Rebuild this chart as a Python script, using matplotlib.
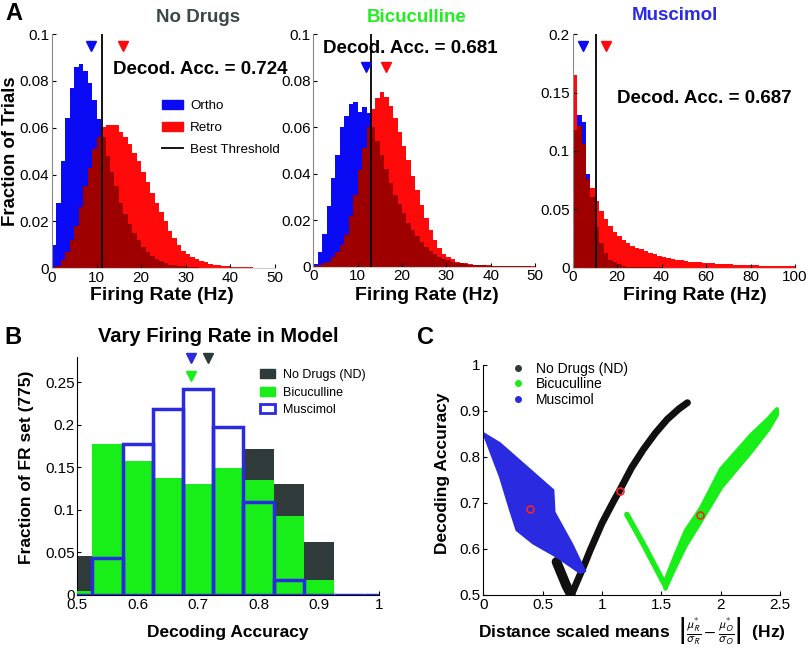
import numpy as np
import matplotlib
matplotlib.use('Agg')
import matplotlib.pyplot as plt
from matplotlib.patches import Patch
from matplotlib.lines import Line2D
from matplotlib.ticker import FuncFormatter

plt.rcParams['font.family'] = ['Liberation Sans', 'DejaVu Sans']
plt.rcParams['mathtext.fontset'] = 'stixsans'

# ---------------- panel A: firing-rate histograms (fraction of trials per bin)
nd_ortho = [0.010, 0.028, 0.0456, 0.064, 0.077, 0.086, 0.087, 0.084, 0.079, 0.0717,
            0.0637, 0.056, 0.048, 0.041, 0.035, 0.028, 0.023, 0.019, 0.015, 0.012,
            0.009, 0.0068, 0.0052, 0.004, 0.003, 0.0022, 0.0016, 0.0012, 0.001, 0.0008,
            0.0006, 0.0005, 0.0004, 0.0003, 0.0003, 0.0002, 0.0002, 0.0002, 0.0001, 0.0001,
            0.0001, 0.0001, 0.0001, 0, 0, 0, 0, 0, 0, 0]
nd_retro = [0.0005, 0.001, 0.0035, 0.007, 0.012, 0.018, 0.026, 0.035, 0.043, 0.051,
            0.056, 0.0605, 0.061, 0.061, 0.061, 0.058, 0.056, 0.053, 0.049, 0.0456,
            0.041, 0.037, 0.032, 0.028, 0.024, 0.020, 0.016, 0.013, 0.010, 0.0075,
            0.006, 0.0048, 0.0038, 0.003, 0.0025, 0.002, 0.0016, 0.0013, 0.001, 0.0009,
            0.0007, 0.0006, 0.0005, 0.0004, 0.0004, 0.0003, 0.0003, 0.0002, 0.0002, 0.0002]
bic_ortho = [0.0011, 0.0063, 0.014, 0.026, 0.038, 0.048, 0.060, 0.065, 0.070, 0.0707,
             0.0667, 0.0686, 0.066, 0.060, 0.054, 0.048, 0.042, 0.036, 0.031, 0.027,
             0.023, 0.019, 0.016, 0.013, 0.0105, 0.0085, 0.0068, 0.0054, 0.0043, 0.0034,
             0.0027, 0.0021, 0.0017, 0.0014, 0.0011, 0.0009, 0.0008, 0.0007, 0.0006, 0.0005,
             0.0004, 0.0004, 0.0004, 0.0003, 0.0003, 0.0003, 0.0004, 0.0004, 0.0002, 0]
bic_retro = [0.0003, 0.0007, 0.0015, 0.002, 0.0043, 0.0065, 0.0093, 0.0136, 0.022, 0.031,
             0.0416, 0.051, 0.060, 0.068, 0.0725, 0.075, 0.073, 0.069, 0.064, 0.058,
             0.052, 0.046, 0.039, 0.033, 0.0265, 0.021, 0.0158, 0.0115, 0.0079, 0.0055,
             0.0043, 0.0035, 0.0022, 0.0016, 0.0014, 0.001, 0.0009, 0.0008, 0.0007, 0.0006,
             0.0005, 0.0005, 0.0004, 0.0004, 0.0003, 0.0002, 0.0002, 0.0002, 0.0002, 0.0002]
mus_ortho = [0.118, 0.131, 0.125, 0.080, 0.061, 0.035, 0.021, 0.0123, 0.007, 0.0046,
             0.003, 0.0017, 0.001, 0.0007, 0.0005, 0.0004, 0.0003, 0.0003, 0.0002, 0.0002,
             0, 0, 0, 0, 0, 0, 0, 0, 0, 0,
             0, 0, 0, 0, 0, 0, 0, 0, 0, 0,
             0, 0, 0, 0, 0, 0, 0, 0, 0, 0]
mus_retro = [0.165, 0.121, 0.106, 0.076, 0.068, 0.057, 0.049, 0.042, 0.036, 0.031,
             0.027, 0.0235, 0.021, 0.019, 0.0172, 0.0158, 0.0145, 0.013, 0.0115, 0.0103,
             0.0094, 0.0085, 0.0078, 0.007, 0.0063, 0.0057, 0.0052, 0.0048, 0.0045, 0.0042,
             0.004, 0.0037, 0.0034, 0.0032, 0.003, 0.0028, 0.0026, 0.0024, 0.0023, 0.0022,
             0.002, 0.0019, 0.0018, 0.0017, 0.0016, 0.0015, 0.0014, 0.0014, 0.0013, 0.0013]
bin_width_A = [1, 1, 2]
thresholds = [11.2, 13.0, 10.3]
mean_ortho = [8.7, 11.9, 4.8]
mean_retro = [15.9, 16.5, 15.0]
decod_acc = [0.724, 0.681, 0.687]

# ---------------- panel B: decoding accuracy distributions
acc_centers = [0.5, 0.55, 0.6, 0.65, 0.7, 0.75, 0.8, 0.85, 0.9, 0.95, 1.0]
nd_frac = [0.046, 0.09, 0.12, 0.13, 0.13, 0.12, 0.171, 0.131, 0.062, 0, 0]
bic_frac = [0.005, 0.177, 0.158, 0.137, 0.130, 0.149, 0.135, 0.093, 0.018, 0, 0]
mus_frac = [0, 0.043, 0.177, 0.219, 0.242, 0.197, 0.109, 0.018, 0, 0, 0]
mean_acc = {'nd': 0.717, 'bic': 0.688, 'mus': 0.688}

# ---------------- panel C: accuracy vs distance of scaled means (outline of point clouds)
nd_left_x = [0.617, 0.66, 0.70, 0.737]
nd_left_y = [0.572, 0.545, 0.52, 0.502]
nd_right_x = [0.75, 0.80, 0.85, 0.90, 1.0, 1.1, 1.15, 1.25, 1.35, 1.45, 1.55, 1.65, 1.72]
nd_right_y = [0.505, 0.535, 0.565, 0.597, 0.656, 0.705, 0.728, 0.777, 0.817, 0.852, 0.882, 0.905, 0.918]
bic_left_x = [1.21, 1.35, 1.53]
bic_left_y = [0.675, 0.61, 0.522]
bic_right_x = [1.53, 1.6, 1.7, 1.83, 2.0, 2.25, 2.4, 2.47]
bic_right_lo = [0.515, 0.555, 0.608, 0.662, 0.735, 0.812, 0.862, 0.893]
bic_right_hi = [0.532, 0.578, 0.64, 0.69, 0.775, 0.848, 0.885, 0.905]
mus_x = [0.0, 0.14, 0.365, 0.59, 0.6, 0.75, 0.857, 0.815, 0.618, 0.42, 0.28, 0.225, 0.14, 0.0]
mus_y = [0.852, 0.83, 0.779, 0.728, 0.68, 0.61, 0.552, 0.548, 0.583, 0.612, 0.641, 0.685, 0.757, 0.852]
data_pts_x = [1.152, 1.83, 0.39]
data_pts_y = [0.725, 0.675, 0.688]

BLUE = '#0a0af5'
RED = '#ff0a0a'
DARKRED = '#9e0000'
ND_COL = '#2f3b3b'
GREEN = '#18ee18'
MUS_COL = '#2a2ae0'

W, H = 810, 650
fig = plt.figure(figsize=(8.1, 6.5), dpi=100)


def box(l, t, r, b):
    return [l / W, 1 - b / H, (r - l) / W, (b - t) / H]


def ftext(x, y, s, **kw):
    fig.text(x / W, 1 - y / H, s, **kw)


fmt = FuncFormatter(lambda v, p: f'{v:g}')


def style(ax, faint=False):
    for s in ['top', 'right']:
        ax.spines[s].set_visible(False)
    if faint:
        ax.spines['left'].set_color('#888888')
        ax.spines['bottom'].set_color('#cccccc')
    ax.tick_params(direction='in', length=3, labelsize=11, pad=2)
    ax.xaxis.set_major_formatter(fmt)
    ax.yaxis.set_major_formatter(fmt)


# ---------------- panel A
axA = [fig.add_axes(box(52, 34, 275, 268.3)),
       fig.add_axes(box(313.3, 34.3, 535, 266.7)),
       fig.add_axes(box(572.7, 34.3, 795, 267.7))]
orthos = [nd_ortho, bic_ortho, mus_ortho]
retros = [nd_retro, bic_retro, mus_retro]
xmax = [50, 50, 100]
ymax = [0.1, 0.1, 0.2]
nyt = [6, 6, 5]
tri_y = [0.095, 0.086, 0.19]
for i, ax in enumerate(axA):
    o = np.array(orthos[i])
    r = np.array(retros[i])
    w = bin_width_A[i]
    edges = np.arange(len(o)) * w
    ax.bar(edges, o, width=w, align='edge', color=BLUE, linewidth=0)
    ax.bar(edges, r, width=w, align='edge', color=RED, linewidth=0)
    ax.bar(edges, np.minimum(o, r), width=w, align='edge', color=DARKRED, linewidth=0)
    ax.axvline(thresholds[i], color='black', lw=1.3)
    ax.plot([mean_ortho[i]], [tri_y[i]], 'v', color=BLUE, ms=7, clip_on=False)
    ax.plot([mean_retro[i]], [tri_y[i]], 'v', color=RED, ms=7, clip_on=False)
    ax.set_xlim(0, xmax[i])
    ax.set_ylim(0, ymax[i])
    ax.set_xticks(np.linspace(0, xmax[i], 6))
    ax.set_yticks(np.linspace(0, ymax[i], nyt[i]))
    style(ax, faint=True)

axA[0].text(13.7, 0.0847, f'Decod. Acc. = {decod_acc[0]}', fontsize=13.5, weight='bold', va='center', clip_on=False)
axA[1].text(2.1, 0.094, f'Decod. Acc. = {decod_acc[1]}', fontsize=13.5, weight='bold', va='center')
axA[2].text(20, 0.1446, f'Decod. Acc. = {decod_acc[2]}', fontsize=13.5, weight='bold', va='center')

handles = [Patch(color=BLUE, label='Ortho'), Patch(color=RED, label='Retro'),
           Line2D([], [], color='black', lw=1.3, label='Best Threshold')]
axA[0].legend(handles=handles, loc='upper left', bbox_to_anchor=(0.462, 0.748), frameon=False,
              fontsize=9.6, handlelength=1.6, handletextpad=0.55, labelspacing=0.72, borderpad=0)

ftext(14, 14, 'A', fontsize=17, weight='bold', ha='center', va='center')
ftext(198, 17, 'No Drugs', fontsize=13.5, weight='bold', color='#3c4848', ha='center', va='center')
ftext(416.7, 17, 'Bicuculline', fontsize=13.5, weight='bold', color='#22ee22', ha='center', va='center')
ftext(675, 15, 'Muscimol', fontsize=13.5, weight='bold', color='#2a2ae8', ha='center', va='center')
ftext(11, 151, 'Fraction of Trials', fontsize=13.4, weight='bold', rotation=90, ha='center', va='center')
for xc in [162, 426.7, 695]:
    ftext(xc, 296, 'Firing Rate (Hz)', fontsize=14, weight='bold', ha='center', va='center')

# ---------------- panel B
axB = fig.add_axes(box(77.3, 356.7, 379.3, 595))
axB.bar(acc_centers, nd_frac, width=0.05, color=ND_COL, linewidth=0, zorder=1)
axB.bar(acc_centers, mus_frac, width=0.05, color='white', linewidth=0, zorder=2)
axB.bar(acc_centers, bic_frac, width=0.05, color=GREEN, linewidth=0, zorder=3)
axB.bar(acc_centers, mus_frac, width=0.05, fill=False, edgecolor=MUS_COL, linewidth=2.5, zorder=4)
axB.plot([mean_acc['mus']], [0.278], 'v', color=MUS_COL, ms=7, clip_on=False, zorder=5)
axB.plot([mean_acc['nd']], [0.278], 'v', color=ND_COL, ms=7, clip_on=False, zorder=5)
axB.plot([mean_acc['bic']], [0.257], 'v', color=GREEN, ms=7, clip_on=False, zorder=5)
axB.set_xlim(0.5, 1.0)
axB.set_ylim(0, 0.28)
axB.set_xticks([0.5, 0.6, 0.7, 0.8, 0.9, 1.0])
axB.set_yticks([0, 0.05, 0.1, 0.15, 0.2, 0.25])
style(axB)
hB = [Patch(color=ND_COL, label='No Drugs (ND)'), Patch(color=GREEN, label='Bicuculline'),
      Patch(facecolor='white', edgecolor=MUS_COL, linewidth=2, label='Muscimol')]
axB.legend(handles=hB, loc='upper left', bbox_to_anchor=(0.585, 0.975), frameon=False, fontsize=9,
           handlelength=1.2, handletextpad=0.6, labelspacing=0.45, borderpad=0)

ftext(13, 337, 'B', fontsize=17, weight='bold', ha='center', va='center')
ftext(218, 337, 'Vary Firing Rate in Model', fontsize=14.5, weight='bold', ha='center', va='center')
ftext(27, 467, 'Fraction of FR set (775)', fontsize=12.5, weight='bold', rotation=90, ha='center', va='center')
ftext(228, 633, 'Decoding Accuracy', fontsize=12.5, weight='bold', ha='center', va='center')

# ---------------- panel C
axC = fig.add_axes(box(483.3, 365, 780, 595))
axC.plot(nd_left_x, nd_left_y, color='#101010', lw=7, solid_capstyle='round', zorder=1)
axC.plot(nd_right_x, nd_right_y, color='#101010', lw=5, solid_capstyle='round', zorder=1)
axC.fill(mus_x, mus_y, color=MUS_COL, lw=1.5, zorder=2)
axC.plot(bic_left_x, bic_left_y, color=GREEN, lw=4, solid_capstyle='round', zorder=2)
axC.fill_between(bic_right_x, bic_right_lo, bic_right_hi, color=GREEN, lw=3, zorder=2)
axC.plot(data_pts_x, data_pts_y, 'o', mfc='none', mec='#ff2020', ms=5, mew=1.2, zorder=4)
axC.set_xlim(0, 2.5)
axC.set_ylim(0.5, 1.0)
axC.set_xticks([0, 0.5, 1, 1.5, 2, 2.5])
axC.set_yticks([0.5, 0.6, 0.7, 0.8, 0.9, 1.0])
style(axC)
hC = [Line2D([], [], ls='none', marker='o', ms=4, color=ND_COL, label='No Drugs (ND)'),
      Line2D([], [], ls='none', marker='o', ms=4, color=GREEN, label='Bicuculline'),
      Line2D([], [], ls='none', marker='o', ms=4, color=MUS_COL, label='Muscimol')]
axC.legend(handles=hC, loc='upper left', bbox_to_anchor=(0.065, 1.045), frameon=False, fontsize=10,
           handlelength=1.2, handletextpad=0.7, labelspacing=0.12, borderpad=0)

ftext(426, 337, 'C', fontsize=17, weight='bold', ha='center', va='center')
ftext(443, 473, 'Decoding Accuracy', fontsize=12.5, weight='bold', rotation=90, ha='center', va='center')
ftext(632, 631,
      r'Distance scaled means  $\left|\frac{\mu^{*}_{R}}{\sigma_{R}}-\frac{\mu^{*}_{O}}{\sigma_{O}}\right|$  (Hz)',
      fontsize=12.5, weight='bold', ha='center', va='center')

fig.savefig('out.png', dpi=100)
